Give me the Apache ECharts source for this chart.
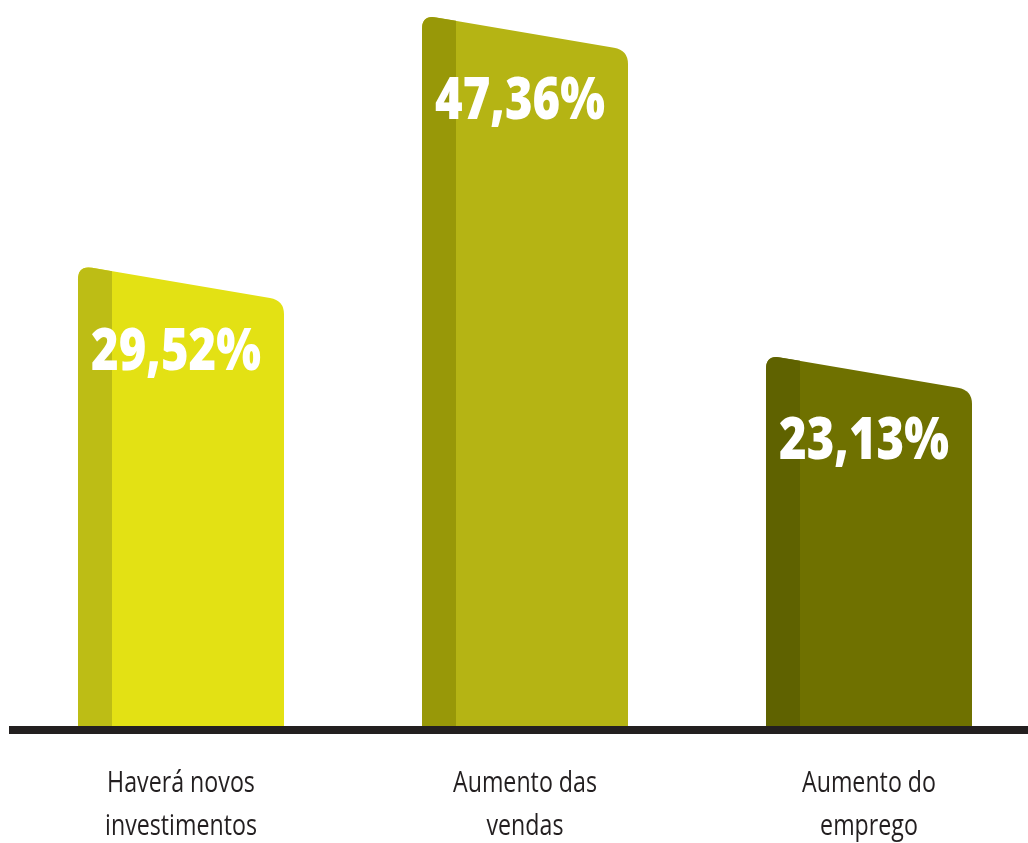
<!DOCTYPE html>
<html>
<head>
<meta charset="utf-8">
<script src="https://cdn.jsdelivr.net/npm/echarts@6/dist/echarts.min.js"></script>
<style>
  html, body { margin: 0; padding: 0; background: #ffffff; }
  #chart { width: 1028px; height: 843px; }
</style>
</head>
<body>
<div id="chart"></div>
<script>
// Survey results: share of answers per expectation
const categories = ['Haverá novos\ninvestimentos', 'Aumento das\nvendas', 'Aumento do\nemprego'];
const values = [29.52, 47.36, 23.13];
const barColors = ['#E3E114', '#B5B414', '#6F7100'];
const stripeColors = ['#BDBD15', '#989808', '#5F6200'];

const Y_MIN = -2.35;
const Y_MAX = 49.68;

const BAR_W = 206;      // bar width in px
const STRIPE_W = 34;    // darker left stripe
const SLANT = 35;       // drop of the top edge from left to right
const R = 14;           // corner radius

const chart = echarts.init(document.getElementById('chart'), null, { renderer: 'canvas' });

function fmt(v) {
  return v.toFixed(2).replace('.', ',') + '%';
}

function renderBar(params, api) {
  const i = api.value(0);
  const v = api.value(1);
  const top = api.coord([i, v]);
  const base = api.coord([i, Y_MIN]);
  const cx = top[0];
  const x0 = cx - BAR_W / 2;
  const x1 = cx + BAR_W / 2;
  const yb = base[1];
  // value sits at the middle of the slanted top edge
  const yL = top[1] - SLANT / 2;
  const yR = top[1] + SLANT / 2;
  const s = SLANT / BAR_W;

  const body =
    'M' + x0 + ',' + yb +
    'L' + x0 + ',' + (yL + R) +
    'Q' + x0 + ',' + yL + ',' + (x0 + R) + ',' + (yL + R * s) +
    'L' + (x1 - R) + ',' + (yR - R * s) +
    'Q' + x1 + ',' + yR + ',' + x1 + ',' + (yR + R) +
    'L' + x1 + ',' + yb + 'Z';

  const stripe =
    'M' + x0 + ',' + yb +
    'L' + x0 + ',' + (yL + R) +
    'Q' + x0 + ',' + yL + ',' + (x0 + R) + ',' + (yL + R * s) +
    'L' + (x0 + STRIPE_W) + ',' + (yL + STRIPE_W * s) +
    'L' + (x0 + STRIPE_W) + ',' + yb + 'Z';

  return {
    type: 'group',
    children: [
      { type: 'path', shape: { pathData: body }, style: { fill: barColors[i] } },
      { type: 'path', shape: { pathData: stripe }, style: { fill: stripeColors[i] } },
      {
        // value label, condensed horizontally
        type: 'text',
        x: cx - 5,
        y: top[1] + 70,
        scaleX: 0.8,
        style: {
          text: fmt(v),
          fill: '#ffffff',
          font: '800 59px "Open Sans", "DejaVu Sans", sans-serif',
          align: 'center',
          verticalAlign: 'middle'
        }
      },
      {
        // category name under the axis line
        type: 'text',
        x: cx,
        y: yb + 75,
        scaleX: 0.8,
        style: {
          text: categories[i],
          fill: '#231F20',
          font: '29px "Open Sans", "DejaVu Sans", sans-serif',
          lineHeight: 43,
          align: 'center',
          verticalAlign: 'middle'
        }
      }
    ]
  };
}

chart.setOption({
  animation: false,
  backgroundColor: '#ffffff',
  grid: { left: 9, width: 1032, top: 0, bottom: 113, containLabel: false, outerBoundsMode: 'none' },
  xAxis: {
    type: 'category',
    data: categories,
    z: 5,
    axisLine: { show: true, onZero: false, lineStyle: { color: '#231F20', width: 8, cap: 'butt' } },
    axisTick: { show: false },
    axisLabel: { show: false }
  },
  yAxis: {
    type: 'value',
    min: Y_MIN,
    max: Y_MAX,
    show: false,
    splitLine: { show: false }
  },
  series: [{
    type: 'custom',
    renderItem: renderBar,
    clip: false,
    data: values.map((v, i) => [i, v]),
    z: 2
  }]
});
</script>
</body>
</html>
